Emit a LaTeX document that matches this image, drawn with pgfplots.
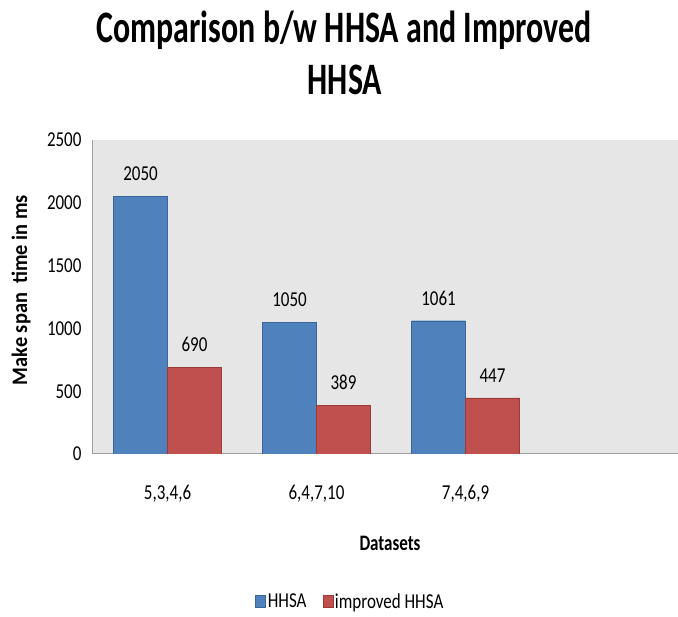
\documentclass[border=0pt]{standalone}
\usepackage{pgfplots}
\pgfplotsset{compat=1.18}
\usepackage{fontspec}
\setmainfont{Carlito}
\definecolor{bgray}{HTML}{E6E6E6}
\definecolor{hblue}{HTML}{4F81BD}
\definecolor{hbluedk}{HTML}{3A6597}
\definecolor{hred}{HTML}{C0504D}
\definecolor{hreddk}{HTML}{9A3B38}
\newcommand{\vs}[1]{\scalebox{1}[1.25]{#1}}
\begin{document}
\begin{tikzpicture}
\path[use as bounding box] (-93pt,-163pt) rectangle (585pt,454pt);
\begin{axis}[
  at={(0pt,0pt)}, anchor=south west,
  scale only axis, width=585pt, height=314pt,
  ybar, bar width=54pt,
  xmin=-0.5, xmax=3.426,
  ymin=0, ymax=2500,
  ytick={0,500,...,2500},
  xtick={0,1,2},
  xticklabels={{\vs{5,3,4,6}},{\vs{6,4,7,10}},{\vs{7,4,6,9}}},
  yticklabel={\vs{\pgfmathprintnumber{\tick}}},
  axis x line*=bottom, axis y line*=left,
  axis line style={draw=gray!75, line width=1pt, -},
  major tick length=0pt,
  axis background/.style={fill=bgray},
  ticklabel style={font=\fontsize{17}{20}\selectfont},
  /pgf/number format/assume math mode=true,
  /pgf/number format/1000 sep={},
  yticklabel style={xshift=-8pt},
  xticklabel style={yshift=-28pt},
  nodes near coords={\vs{\pgfmathprintnumber{\pgfplotspointmeta}}},
  nodes near coords style={font=\fontsize{17}{20}\selectfont, yshift=12pt, /pgf/number format/1000 sep={}},
  legend style={at={(0.44,-0.47)}, anchor=center, draw=none, fill=none,
    legend columns=2, font=\fontsize{17}{20}\selectfont,
    /tikz/every even column/.append style={column sep=14pt}},
  legend image code/.code={\draw[#1] (0pt,-6pt) rectangle (10pt,6pt);},
]
\addplot[fill=hblue, draw=hbluedk, bar shift=-27pt] coordinates {(0,2050) (1,1050) (2,1061)};
\addplot[fill=hred, draw=hreddk, bar shift=27pt] coordinates {(0,690) (1,389) (2,447)};
\legend{\vs{HHSA}, \vs{improved HHSA}}
\end{axis}
\node[font=\bfseries\fontsize{31}{36}\selectfont] at (251pt,424pt) {\scalebox{1.03}[1.45]{Comparison b/w HHSA and Improved}};
\node[font=\bfseries\fontsize{31}{36}\selectfont] at (252pt,374pt) {\scalebox{1.03}[1.45]{HHSA}};
\node[font=\bfseries\fontsize{17}{20}\selectfont, rotate=90] at (-72pt,164pt) {\scalebox{1.2}[1.3]{Make span\ \ time in ms}};
\node[font=\bfseries\fontsize{17}{20}\selectfont] at (297pt,-89pt) {\scalebox{1}[1.3]{Datasets}};
\end{tikzpicture}
\end{document}
